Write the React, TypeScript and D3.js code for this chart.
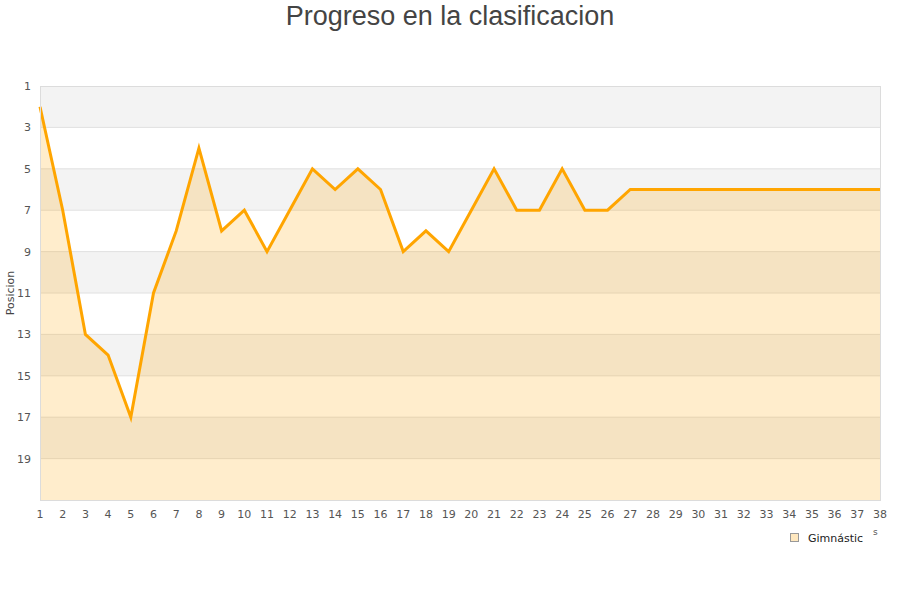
import { useRef, useEffect } from 'react'
import * as d3 from 'd3'

const jornadas = d3.range(1, 39)
const posiciones = [2, 7, 13, 14, 17, 11, 8, 4, 8, 7, 9, 7, 5, 6, 5, 6, 9, 8, 9, 7, 5, 7, 7, 5, 7, 7, 6, 6, 6, 6, 6, 6, 6, 6, 6, 6, 6, 6]
const yTicks = [1, 3, 5, 7, 9, 11, 13, 15, 17, 19]
const title = 'Progreso en la clasificacion'
const serieName = 'Gimnástic'

export default function App() {
  const svgRef = useRef<SVGSVGElement>(null)

  useEffect(() => {
    if (!svgRef.current) return
    const width = 900
    const height = 600
    const svg = d3.select(svgRef.current)
    svg.selectAll('*').remove()
    svg.attr('width', width).attr('height', height)

    const margin = { top: 86, right: 20, bottom: 100, left: 40 }
    const w = width - margin.left - margin.right
    const h = height - margin.top - margin.bottom
    const font = "'DejaVu Sans', sans-serif"

    svg.append('rect').attr('width', width).attr('height', height).attr('fill', '#fff')

    svg.append('text')
      .attr('x', width / 2)
      .attr('y', 25)
      .attr('text-anchor', 'middle')
      .attr('font-family', "'Liberation Sans', Arial, sans-serif")
      .attr('font-size', '27px')
      .attr('fill', '#444')
      .text(title)

    const g = svg.append('g').attr('transform', `translate(${margin.left},${margin.top})`)

    const x = d3.scaleLinear().domain([1, 38]).range([0, w])
    const y = d3.scaleLinear().domain([1, 21]).range([0, h])

    // alternating bands
    g.selectAll('.band')
      .data(d3.range(1, 21, 2))
      .join('rect')
      .attr('x', 0)
      .attr('width', w)
      .attr('y', d => y(d))
      .attr('height', d => y(d + 2) - y(d))
      .attr('fill', (_, i) => (i % 2 === 0 ? '#f3f3f3' : '#ffffff'))

    // grid lines
    g.selectAll('.grid')
      .data(yTicks.slice(1))
      .join('line')
      .attr('x1', 0)
      .attr('x2', w)
      .attr('y1', d => y(d))
      .attr('y2', d => y(d))
      .attr('stroke', '#e0e0e0')
      .attr('stroke-width', 1)

    const pts = jornadas.map((j, i) => ({ j, p: posiciones[i] }))

    const area = d3.area<{ j: number; p: number }>()
      .x(d => x(d.j))
      .y0(h)
      .y1(d => y(d.p))

    g.append('path')
      .datum(pts)
      .attr('d', area)
      .attr('fill', '#ffa500')
      .attr('fill-opacity', 0.2)

    const line = d3.line<{ j: number; p: number }>()
      .x(d => x(d.j))
      .y(d => y(d.p))

    g.append('path')
      .datum(pts)
      .attr('d', line)
      .attr('fill', 'none')
      .attr('stroke', '#ffa500')
      .attr('stroke-width', 3)
      .attr('stroke-linejoin', 'miter')

    // border
    g.append('rect')
      .attr('x', 0.5)
      .attr('y', 0.5)
      .attr('width', w)
      .attr('height', h)
      .attr('fill', 'none')
      .attr('stroke', '#dcdcdc')

    // y axis labels
    g.selectAll('.ylab')
      .data(yTicks)
      .join('text')
      .attr('x', -9)
      .attr('y', d => y(d) + 4)
      .attr('text-anchor', 'end')
      .attr('font-family', font)
      .attr('font-size', '11px')
      .attr('fill', '#555')
      .text(d => d)

    // x axis labels
    g.selectAll('.xlab')
      .data(jornadas)
      .join('text')
      .attr('x', d => x(d))
      .attr('y', h + 18)
      .attr('text-anchor', 'middle')
      .attr('font-family', font)
      .attr('font-size', '11px')
      .attr('fill', '#555')
      .text(d => d)

    svg.append('text')
      .attr('transform', `translate(14,${margin.top + h / 2}) rotate(-90)`)
      .attr('text-anchor', 'middle')
      .attr('font-family', font)
      .attr('font-size', '11px')
      .attr('fill', '#444')
      .text('Posicion')

    svg.append('text')
      .attr('x', 873)
      .attr('y', 535)
      .attr('font-family', font)
      .attr('font-size', '9px')
      .attr('fill', '#555')
      .text('s')

    // legend
    const lg = svg.append('g').attr('transform', 'translate(790,533)')
    lg.append('rect')
      .attr('x', 0.5)
      .attr('y', 0.5)
      .attr('width', 8)
      .attr('height', 8)
      .attr('fill', '#ffe8bf')
      .attr('stroke', '#999')
    lg.append('text')
      .attr('x', 18)
      .attr('y', 8.5)
      .attr('font-family', font)
      .attr('font-size', '11px')
      .attr('fill', '#222')
      .text(serieName)
  }, [])

  return <svg ref={svgRef} style={{ position: 'absolute', left: 0, top: 0 }} />
}
